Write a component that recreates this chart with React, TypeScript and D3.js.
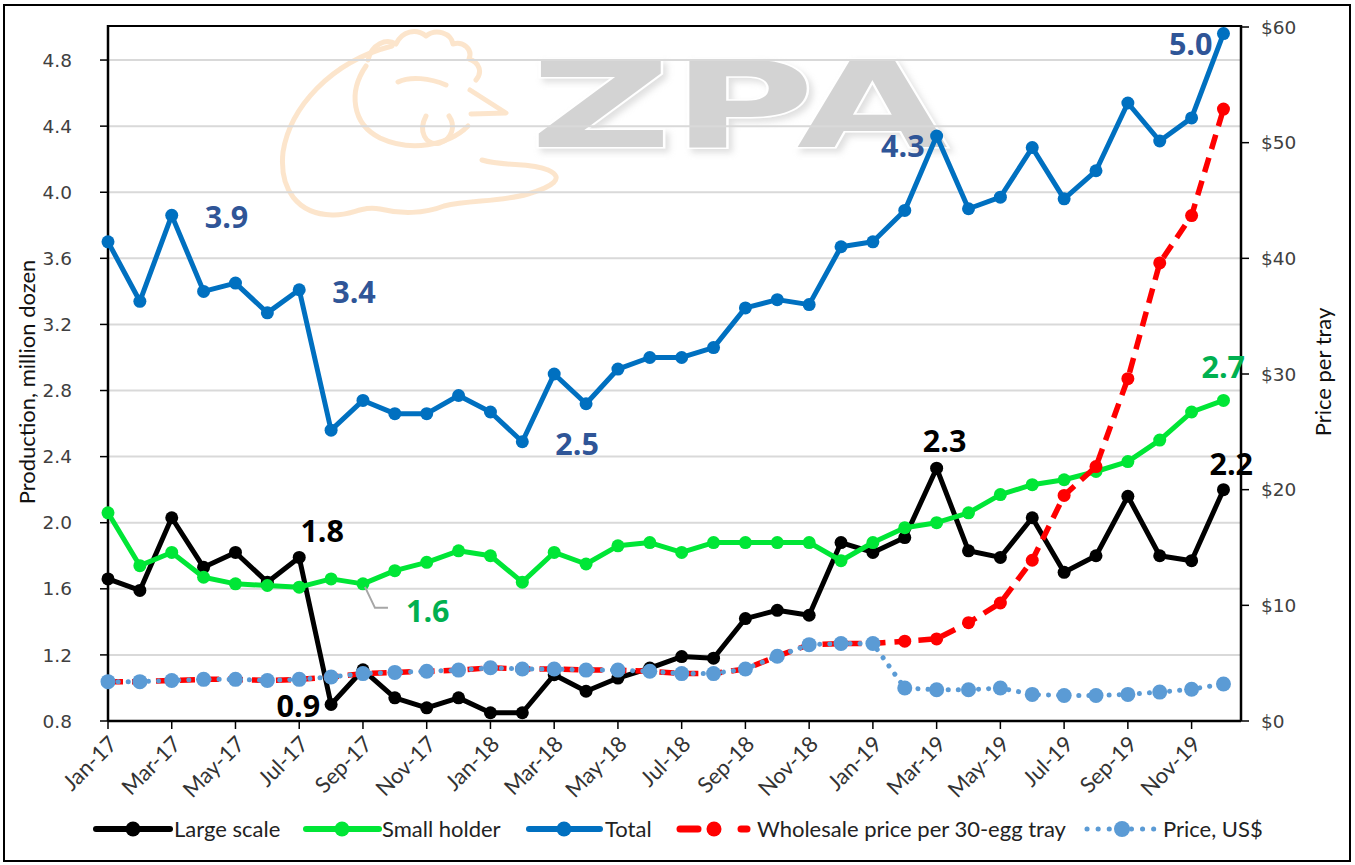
import React from 'react';
import * as d3 from 'd3';

const months = [
  'Jan-17','Feb-17','Mar-17','Apr-17','May-17','Jun-17','Jul-17','Aug-17','Sep-17','Oct-17','Nov-17','Dec-17',
  'Jan-18','Feb-18','Mar-18','Apr-18','May-18','Jun-18','Jul-18','Aug-18','Sep-18','Oct-18','Nov-18','Dec-18',
  'Jan-19','Feb-19','Mar-19','Apr-19','May-19','Jun-19','Jul-19','Aug-19','Sep-19','Oct-19','Nov-19','Dec-19',
];
const tickMonths = ['Jan-17','Mar-17','May-17','Jul-17','Sep-17','Nov-17','Jan-18','Mar-18','May-18','Jul-18','Sep-18','Nov-18','Jan-19','Mar-19','May-19','Jul-19','Sep-19','Nov-19'];

const largeScale = [1.66,1.59,2.03,1.73,1.82,1.64,1.79,0.90,1.11,0.94,0.88,0.94,
  0.85,0.85,1.08,0.98,1.06,1.12,1.19,1.18,1.42,1.47,1.44,1.88,
  1.82,1.91,2.33,1.83,1.79,2.03,1.70,1.80,2.16,1.80,1.77,2.20];
const smallHolder = [2.06,1.74,1.82,1.67,1.63,1.62,1.61,1.66,1.63,1.71,1.76,1.83,
  1.80,1.64,1.82,1.75,1.86,1.88,1.82,1.88,1.88,1.88,1.88,1.77,
  1.88,1.97,2.00,2.06,2.17,2.23,2.26,2.31,2.37,2.50,2.67,2.74];
const total = [3.70,3.34,3.86,3.40,3.45,3.27,3.41,2.56,2.74,2.66,2.66,2.77,
  2.67,2.49,2.90,2.72,2.93,3.00,3.00,3.06,3.30,3.35,3.32,3.67,
  3.70,3.89,4.34,3.90,3.97,4.27,3.96,4.13,4.54,4.31,4.45,4.96];
const wholesalePrice = [3.4,3.4,3.5,3.6,3.6,3.5,3.6,3.8,4.1,4.2,4.3,4.4,
  4.6,4.5,4.5,4.4,4.4,4.3,4.1,4.1,4.5,5.6,6.6,6.7,
  6.7,6.9,7.1,8.5,10.2,13.9,19.5,22.0,29.6,39.6,43.7,52.9];
const priceUSD = [3.4,3.4,3.5,3.6,3.6,3.5,3.6,3.8,4.1,4.2,4.3,4.4,
  4.6,4.5,4.5,4.4,4.4,4.3,4.1,4.1,4.5,5.6,6.6,6.7,
  6.7,2.85,2.7,2.7,2.85,2.3,2.2,2.2,2.3,2.5,2.75,3.2];

const leftTicks = [0.8,1.2,1.6,2.0,2.4,2.8,3.2,3.6,4.0,4.4,4.8];
const rightTicks = [0,10,20,30,40,50,60];

const C_BLACK = '#000000';
const C_GREEN = '#00E636';
const C_BLUE = '#0070C0';
const C_RED = '#FF0000';
const C_LBLUE = '#5B9BD5';

// data labels: series, index, offsets relative to the point
const labels = [
  { s: 'total', i: 2, dx: 33, dy: 13, anchor: 'start' },
  { s: 'total', i: 6, dx: 33, dy: 13, anchor: 'start' },
  { s: 'total', i: 13, dx: 33, dy: 13, anchor: 'start' },
  { s: 'total', i: 26, dx: -12, dy: 21, anchor: 'end' },
  { s: 'total', i: 35, dx: -11, dy: 21, anchor: 'end' },
  { s: 'large', i: 6, dx: 23, dy: -15, anchor: 'middle' },
  { s: 'large', i: 7, dx: -11, dy: 13, anchor: 'end' },
  { s: 'large', i: 26, dx: 8, dy: -16, anchor: 'middle' },
  { s: 'large', i: 35, dx: -14, dy: -15, anchor: 'start' },
  { s: 'small', i: 8, dx: 43, dy: 38, anchor: 'start' },
  { s: 'small', i: 35, dx: -22, dy: -22, anchor: 'start' },
];

export default function App() {
  const W = 1355, H = 865;
  const left = 108, right = 1241, top = 27, bottom = 721;
  const x = d3.scaleLinear().domain([0, 35.55]).range([left, right]);
  const yL = d3.scaleLinear().domain([0.8, 5.0]).range([bottom, top]);
  const yR = d3.scaleLinear().domain([0, 60]).range([bottom, top]);

  const lineL = d3.line<number>().x((_, i) => x(i)).y(d => yL(d));
  const lineR = d3.line<number>().x((_, i) => x(i)).y(d => yR(d));

  const seriesMap: Record<string, { vals: number[]; color: string }> = {
    large: { vals: largeScale, color: C_BLACK },
    small: { vals: smallHolder, color: '#00B050' },
    total: { vals: total, color: '#2F5597' },
  };

  const tickFont = "'DejaVu Sans', Verdana, sans-serif";
  const calFont = "Lato, 'Open Sans', sans-serif";

  const solidSeries = (vals: number[], color: string, key: string) => (
    <g key={key}>
      <path d={lineL(vals) || ''} fill="none" stroke={color} strokeWidth={5} strokeLinejoin="round" />
      {vals.map((v, i) => <circle key={i} cx={x(i)} cy={yL(v)} r={6.5} fill={color} />)}
    </g>
  );

  const legendY = 829;
  const legendItems = [
    { name: 'Large scale', x0: 96, x1: 170, mx: 133, tx: 174, kind: 'solid', color: C_BLACK },
    { name: 'Small holder', x0: 306, x1: 379, mx: 342, tx: 382, kind: 'solid', color: C_GREEN },
    { name: 'Total', x0: 529, x1: 600, mx: 564, tx: 605, kind: 'solid', color: C_BLUE },
    { name: 'Wholesale price per 30-egg tray', x0: 677, x1: 750, mx: 714, tx: 757, kind: 'dash', color: C_RED },
    { name: 'Price, US$', x0: 1087, x1: 1156, mx: 1122, tx: 1163, kind: 'dot', color: C_LBLUE },
  ];

  return (
    <svg width={W} height={H} style={{ position: 'fixed', left: 0, top: 0, background: '#fff' }}>
      <defs>
        <filter id="wmShadow" x="-10%" y="-10%" width="130%" height="140%">
          <feDropShadow dx={4} dy={4} stdDeviation={3} floodColor="#BBBBBB" floodOpacity={0.45} />
        </filter>
      </defs>
      <rect x={0} y={0} width={W} height={H} fill="#fff" />
      <rect x={4} y={5} width={1346} height={856} fill="none" stroke="#000" strokeWidth={2} />

      {/* watermark */}
      <g fill="none" stroke="#FBDDBC" strokeWidth={5} strokeLinecap="round" strokeLinejoin="round" opacity={0.75}>
        <path d="M 392,46 C 330,62 290,108 283,152 C 279,190 298,214 332,215 C 352,216 362,205 380,209 C 400,214 424,214 444,206 C 470,200 500,202 528,194 C 552,187 566,178 548,170 C 530,162 505,167 482,160" />
        <path d="M 366,66 C 348,92 352,124 380,138 C 410,152 448,146 468,126" />
        <path d="M 368,60 C 372,44 386,38 396,44 C 402,31 416,28 426,36 C 436,28 451,33 453,44 C 463,41 473,49 469,59 C 479,62 483,72 476,80" />
        <path d="M 470,90 L 506,113 L 471,114" />
        <path d="M 398,82 C 410,76 430,78 446,85" />
        <path d="M 426,116 C 418,131 425,146 440,143 C 452,139 456,126 449,116" />
      </g>
      <text x={530} y={147} textLength={418} lengthAdjust="spacingAndGlyphs" fill="#D3D3D3" stroke="#fff" strokeWidth={3} paintOrder="stroke"
        fontFamily="'DejaVu Sans', sans-serif" fontWeight="bold" fontSize={120} filter="url(#wmShadow)">ZPA</text>

      {/* gridlines */}
      {leftTicks.slice(1).map(t => (
        <line key={t} x1={left} x2={right} y1={yL(t)} y2={yL(t)} stroke="#D9D9D9" strokeWidth={2} />
      ))}

      {/* plot frame */}
      <line x1={left} x2={right} y1={top - 1} y2={top - 1} stroke="#000" strokeWidth={2} />
      <line x1={left} x2={left} y1={top - 2} y2={bottom} stroke="#000" strokeWidth={2.5} />
      <line x1={right} x2={right} y1={top - 2} y2={bottom} stroke="#000" strokeWidth={2.5} />
      <line x1={left} x2={right} y1={bottom} y2={bottom} stroke="#000" strokeWidth={2.5} />

      {/* left axis */}
      {leftTicks.map(t => (
        <g key={t}>
          <line x1={left - 8} x2={left} y1={yL(t)} y2={yL(t)} stroke="#000" strokeWidth={1.5} />
          <text x={72} y={yL(t)} dy="0.36em" textAnchor="end" fontFamily={tickFont} fontSize={18.5} fill="#404040">{t.toFixed(1)}</text>
        </g>
      ))}
      {/* right axis */}
      {rightTicks.map(t => (
        <g key={t}>
          <line x1={right} x2={right + 8} y1={yR(t)} y2={yR(t)} stroke="#000" strokeWidth={1.5} />
          <text x={1261} y={yR(t)} dy="0.36em" textAnchor="start" fontFamily={tickFont} fontSize={18.5} fill="#404040">{'$' + t}</text>
        </g>
      ))}
      {/* x axis */}
      {tickMonths.map(m => {
        const i = months.indexOf(m);
        const xx = x(i);
        return (
          <g key={m}>
            <line x1={xx} x2={xx} y1={bottom} y2={bottom + 8} stroke="#000" strokeWidth={1.5} />
            <text transform={`translate(${xx + 5},${bottom + 19}) rotate(-45)`} textAnchor="end" dy="0.35em" fontFamily={calFont} fontSize={22} fill="#333">{m}</text>
          </g>
        );
      })}

      {/* axis titles */}
      <text transform={`translate(35,${(top + bottom) / 2 + 8}) rotate(-90)`} textAnchor="middle" fontFamily={calFont} fontSize={22} fill="#111">Production, million dozen</text>
      <text transform={`translate(1331,${(top + bottom) / 2 - 2}) rotate(-90)`} textAnchor="middle" fontFamily={calFont} fontSize={22} fill="#111">Price per tray</text>

      {/* primary series */}
      {solidSeries(largeScale, C_BLACK, 'large')}
      {solidSeries(smallHolder, C_GREEN, 'small')}
      {solidSeries(total, C_BLUE, 'total')}

      {/* secondary series */}
      <g>
        <path d={lineR(wholesalePrice) || ''} fill="none" stroke={C_RED} strokeWidth={5.5} strokeDasharray="15 9" />
        {wholesalePrice.map((v, i) => <circle key={i} cx={x(i)} cy={yR(v)} r={6.5} fill={C_RED} />)}
      </g>
      <g>
        <path d={lineR(priceUSD) || ''} fill="none" stroke={C_LBLUE} strokeWidth={5} strokeDasharray="0.1 10" strokeLinecap="round" />
        {priceUSD.map((v, i) => <circle key={i} cx={x(i)} cy={yR(v)} r={7.5} fill={C_LBLUE} />)}
      </g>

      {/* leader line for 1.6 */}
      <path d={`M ${x(8) + 2},${yL(smallHolder[8]) + 3} L ${x(8) + 12},${yL(smallHolder[8]) + 24} L ${x(8) + 25},${yL(smallHolder[8]) + 24}`} fill="none" stroke="#A6A6A6" strokeWidth={2} />

      {/* data labels */}
      {labels.map((l, k) => {
        const s = seriesMap[l.s];
        const v = s.vals[l.i];
        return (
          <text key={k} x={x(l.i) + l.dx} y={yL(v) + l.dy} textAnchor={l.anchor as any}
            fontFamily="'Open Sans', sans-serif" fontWeight={700} fontSize={30.5} fill={s.color}>{v.toFixed(1)}</text>
        );
      })}

      {/* legend */}
      {legendItems.map(it => (
        <g key={it.name}>
          {it.kind === 'solid' && <line x1={it.x0} x2={it.x1} y1={legendY} y2={legendY} stroke={it.color} strokeWidth={6} strokeLinecap="round" />}
          {it.kind === 'dash' && <>
            <line x1={it.x0 + 3} x2={it.x0 + 21} y1={legendY} y2={legendY} stroke={it.color} strokeWidth={7} strokeLinecap="round" />
            <line x1={it.x1 - 9} x2={it.x1 - 3} y1={legendY} y2={legendY} stroke={it.color} strokeWidth={7} strokeLinecap="round" />
          </>}
          {it.kind === 'dot' && <line x1={it.x0} x2={it.x1} y1={legendY} y2={legendY} stroke={it.color} strokeWidth={5} strokeDasharray="0.1 11" strokeLinecap="round" />}
          <circle cx={it.mx} cy={legendY} r={it.kind === 'dot' ? 8 : 7.5} fill={it.color} />
          <text x={it.tx} y={legendY} dy="0.35em" fontFamily={calFont} fontSize={22} fill="#222">{it.name}</text>
        </g>
      ))}
    </svg>
  );
}
